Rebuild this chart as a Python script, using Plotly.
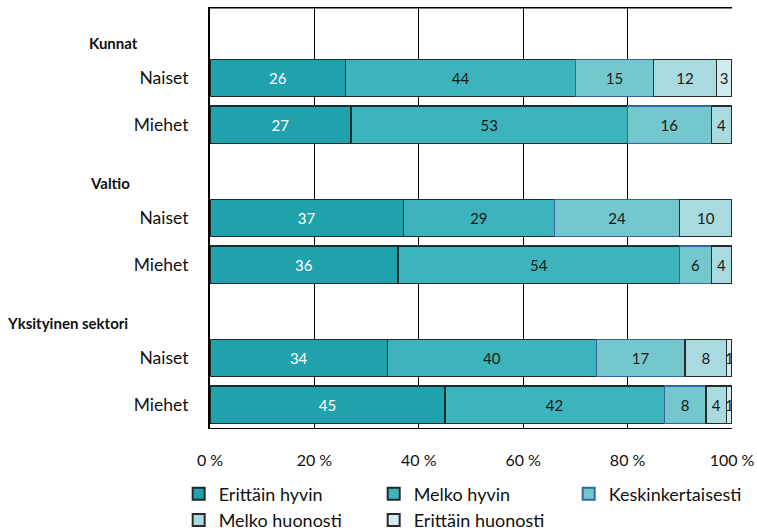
import plotly.graph_objects as go

rows = ["Kunnat", "Kunnat|Naiset", "Kunnat|Miehet",
        "Valtio", "Valtio|Naiset", "Valtio|Miehet",
        "Yksityinen sektori", "Yksityinen sektori|Naiset", "Yksityinen sektori|Miehet"]
row_labels = ["", "Naiset", "Miehet", "", "Naiset", "Miehet", "", "Naiset", "Miehet"]
bar_rows = ["Kunnat|Naiset", "Kunnat|Miehet", "Valtio|Naiset", "Valtio|Miehet",
            "Yksityinen sektori|Naiset", "Yksityinen sektori|Miehet"]
groups = ["Kunnat", "Valtio", "Yksityinen sektori"]

series_names = ["Erittäin hyvin", "Melko hyvin", "Keskinkertaisesti",
                "Melko huonosti", "Erittäin huonosti"]
erittain_hyvin = [26, 27, 37, 36, 34, 45]
melko_hyvin = [44, 53, 29, 54, 40, 42]
keskinkertaisesti = [15, 16, 24, 6, 17, 8]
melko_huonosti = [12, 4, 10, 4, 8, 4]
erittain_huonosti = [3, None, None, None, 1, 1]
values = [erittain_hyvin, melko_hyvin, keskinkertaisesti, melko_huonosti, erittain_huonosti]

ticks = [0, 20, 40, 60, 80, 100]
tick_labels = ["0 %", "20 %", "40 %", "60 %", "80 %", "100 %"]

colors = ["#1fa2ac", "#3db4bb", "#74c7cc", "#a9dadf", "#d0ecef"]
line_colors = ["#1f2a2b", "#1f2a2b", "#3566a0", "#2a2a2a", "#2a2a2a"]
text_colors = ["white", "#1a1a1a", "#1a1a1a", "#1a1a1a", "#1a1a1a"]

FONT = "Lato, Calibri, Carlito, sans-serif"

fig = go.Figure()
for name, vals, c, lc, tc in zip(series_names, values, colors, line_colors, text_colors):
    fig.add_trace(go.Bar(
        y=bar_rows, x=vals, name=name, orientation="h",
        marker=dict(color=c, line=dict(color=lc, width=1.2)),
        text=[("" if v is None else str(v)) for v in vals],
        textposition="inside", insidetextanchor="middle", textangle=0,
        constraintext="none",
        textfont=dict(color=tc, size=15, family=FONT),
        hoverinfo="x+name",
    ))

group_x = {"Kunnat": -0.236, "Valtio": -0.234, "Yksityinen sektori": -0.393}
for g in groups:
    fig.add_annotation(x=group_x[g], xref="paper", y=g, yref="y", text="<b>" + g + "</b>",
                       showarrow=False, xanchor="left", yanchor="middle", yshift=-12,
                       font=dict(size=15, family=FONT, color="#111"))

fig.update_layout(
    barmode="stack", bargap=0.2,
    width=757, height=531,
    margin=dict(l=210, r=25, t=8, b=103, autoexpand=False),
    plot_bgcolor="white", paper_bgcolor="white",
    font=dict(family=FONT, color="#111"),
    uniformtext=dict(mode="show", minsize=15),
    legend=dict(orientation="h", x=-0.06, xanchor="left", y=-0.113, yanchor="top",
                entrywidth=150, entrywidthmode="pixels", traceorder="normal",
                font=dict(size=18, family=FONT), itemsizing="constant",
                tracegroupgap=0),
    xaxis=dict(range=[0, 100], tickvals=ticks, ticktext=tick_labels,
               showgrid=True, gridcolor="#000", gridwidth=1,
               showline=True, linecolor="#000", linewidth=1, mirror=True,
               zeroline=False, ticks="", ticklabelstandoff=18,
               tickfont=dict(size=16, family=FONT)),
    yaxis=dict(type="category", categoryorder="array", categoryarray=rows,
               range=[8.5, -0.5], tickvals=rows, ticktext=row_labels,
               showline=True, linecolor="#000", linewidth=2, mirror=False,
               showgrid=False, ticks="", ticklabelstandoff=16,
               tickfont=dict(size=17.5, family=FONT)),
    showlegend=True,
)
fig.add_shape(type="line", xref="paper", yref="paper", x0=0, x1=1, y0=1, y1=1,
              line=dict(color="#000", width=1))

fig.write_html("out.html", config={"displayModeBar": False},
               post_script="document.body.style.margin='0';")
